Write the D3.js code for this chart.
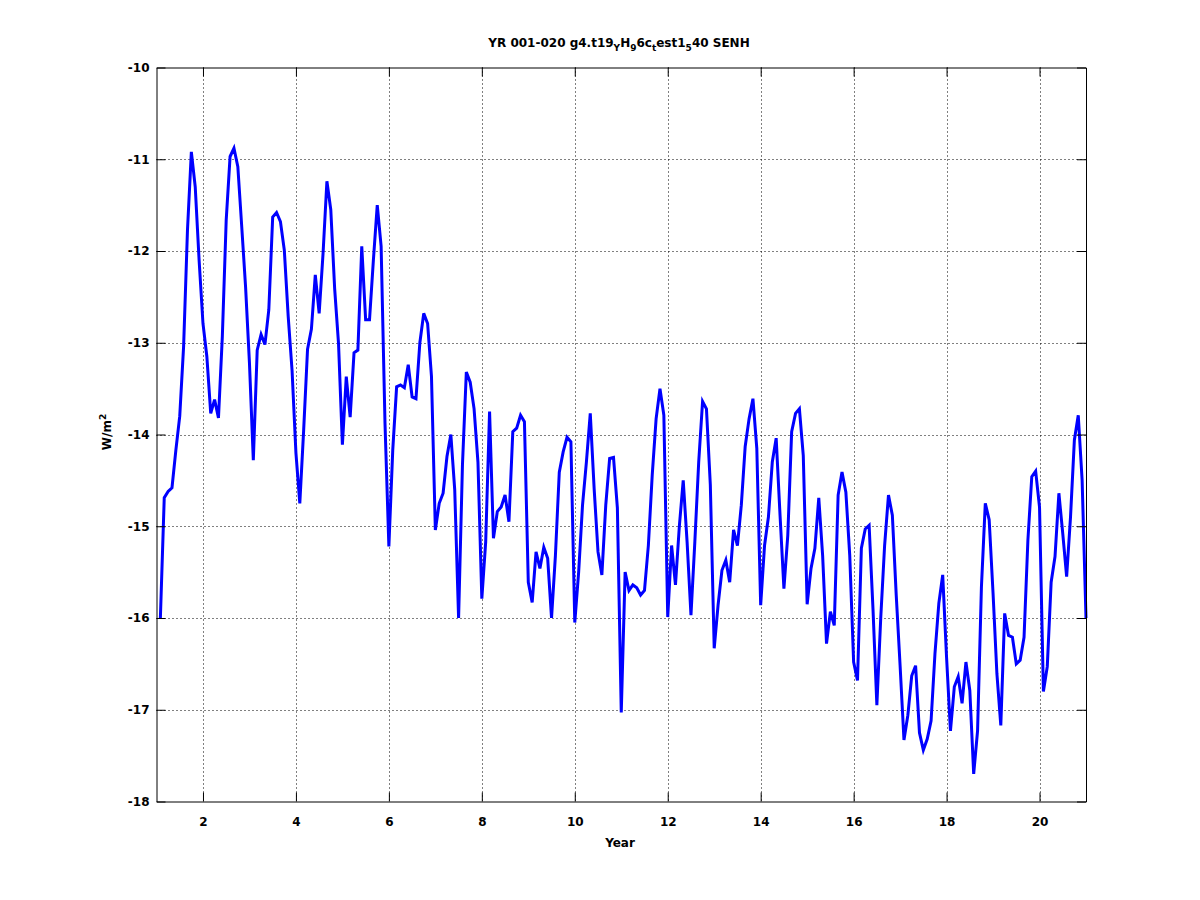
<!DOCTYPE html>
<html>
<head>
<meta charset="utf-8">
<script src="https://cdn.jsdelivr.net/npm/d3@7"></script>
<style>
  body { margin: 0; background: #fff; }
  text { font-family: "DejaVu Sans", "Liberation Sans", Arial, sans-serif; fill: #000; }
</style>
</head>
<body>
<div id="vis"></div>
<script>
// frame size
const FRAME_WIDTH = 1200;
const FRAME_HEIGHT = 900;

// plot box edges (pixels)
const MARGINS = {left: 156.5, right: 114, top: 67.5, bottom: 98.5};

// monthly SENH values, years 1..20
const SENH = [
  -16.0, -14.69, -14.62, -14.58, -14.17, -13.8, -13.04, -11.77, -10.92, -11.3, -12.1, -12.79,
  -13.15, -13.77, -13.62, -13.82, -12.93, -11.66, -10.97, -10.88, -11.08, -11.73, -12.39, -13.22,
  -14.28, -13.08, -12.91, -13.02, -12.64, -11.63, -11.58, -11.68, -11.99, -12.71, -13.3, -14.2,
  -14.75, -13.95, -13.07, -12.85, -12.26, -12.68, -12.03, -11.24, -11.55, -12.41, -13.01, -14.11,
  -13.37, -13.81, -13.11, -13.08, -11.95, -12.75, -12.75, -12.1, -11.5, -11.95, -13.88, -15.22,
  -14.17, -13.48, -13.46, -13.49, -13.24, -13.59, -13.61, -13.0, -12.68, -12.79, -13.37, -15.04,
  -14.75, -14.64, -14.24, -14.0, -14.6, -16.0, -14.33, -13.32, -13.43, -13.72, -14.3, -15.79,
  -15.17, -13.75, -15.13, -14.84, -14.79, -14.66, -14.95, -13.97, -13.93, -13.79, -13.86, -15.61,
  -15.83, -15.28, -15.46, -15.23, -15.35, -16.0, -15.32, -14.41, -14.19, -14.03, -14.08, -16.05,
  -15.5, -14.77, -14.3, -13.77, -14.59, -15.28, -15.53, -14.77, -14.26, -14.25, -14.8, -17.03,
  -15.5, -15.7, -15.64, -15.67, -15.75, -15.7, -15.21, -14.44, -13.83, -13.5, -13.79, -15.99,
  -15.21, -15.64, -15.0, -14.5, -15.17, -15.97, -15.17, -14.3, -13.64, -13.72, -14.55, -16.33,
  -15.86, -15.48, -15.37, -15.61, -15.04, -15.21, -14.77, -14.13, -13.83, -13.61, -14.15, -15.86,
  -15.21, -14.9, -14.3, -14.04, -14.88, -15.68, -15.1, -13.97, -13.77, -13.72, -14.23, -15.85,
  -15.46, -15.24, -14.69, -15.32, -16.28, -15.93, -16.08, -14.66, -14.41, -14.63, -15.32, -16.48,
  -16.68, -15.24, -15.03, -14.99, -15.9, -16.95, -16.0, -15.21, -14.66, -14.88, -15.75, -16.52,
  -17.33, -17.06, -16.63, -16.52, -17.25, -17.44, -17.32, -17.12, -16.39, -15.84, -15.53, -16.43,
  -17.23, -16.75, -16.64, -16.93, -16.48, -16.79, -17.7, -17.23, -15.66, -14.75, -14.93, -15.73,
  -16.61, -17.17, -15.95, -16.19, -16.21, -16.5, -16.46, -16.21, -15.15, -14.46, -14.4, -14.79,
  -16.8, -16.53, -15.61, -15.33, -14.64, -15.08, -15.55, -14.9, -14.06, -13.79, -14.5, -16.0
];

// month number 1..240 -> time in years
const MONTHS = d3.range(1, SENH.length + 1);

// axis ticks
const X_TICKS = [2, 4, 6, 8, 10, 12, 14, 16, 18, 20];
const Y_TICKS = [-10, -11, -12, -13, -14, -15, -16, -17, -18];

const X_DOMAIN = [1, 21];
const Y_DOMAIN = [-18, -10];

const TICK_LEN = 9;

const svg = d3.select("#vis")
  .append("svg")
    .attr("width", FRAME_WIDTH)
    .attr("height", FRAME_HEIGHT);

const X_SCALE = d3.scaleLinear()
  .domain(X_DOMAIN)
  .range([MARGINS.left, FRAME_WIDTH - MARGINS.right]);

const Y_SCALE = d3.scaleLinear()
  .domain(Y_DOMAIN)
  .range([FRAME_HEIGHT - MARGINS.bottom, MARGINS.top]);

const x0 = X_SCALE.range()[0], x1 = X_SCALE.range()[1];
const y0 = Y_SCALE.range()[1], y1 = Y_SCALE.range()[0];

// dotted grid
svg.append("g")
  .selectAll("line")
  .data(X_TICKS)
  .enter()
  .append("line")
    .attr("x1", (d) => Math.round(X_SCALE(d)) + 0.5)
    .attr("x2", (d) => Math.round(X_SCALE(d)) + 0.5)
    .attr("y1", y0)
    .attr("y2", y1)
    .attr("stroke", "#000")
    .attr("stroke-width", 1)
    .attr("stroke-dasharray", "1,3");

svg.append("g")
  .selectAll("line")
  .data(Y_TICKS.slice(1, -1))
  .enter()
  .append("line")
    .attr("x1", x0)
    .attr("x2", x1)
    .attr("y1", (d) => Math.round(Y_SCALE(d)) + 0.5)
    .attr("y2", (d) => Math.round(Y_SCALE(d)) + 0.5)
    .attr("stroke", "#000")
    .attr("stroke-width", 1)
    .attr("stroke-dasharray", "1,3");

// data line
const line = d3.line()
  .x((d) => X_SCALE(1 + d / 12))
  .y((d) => Y_SCALE(SENH[d - 1]));

svg.append("path")
  .datum(MONTHS)
  .attr("d", line)
  .attr("fill", "none")
  .attr("stroke", "#0000ff")
  .attr("stroke-width", 3)
  .attr("stroke-linejoin", "miter");

// axes, ticks inside the box
function styleAxis(g) {
  g.select(".domain").attr("stroke", "#000").attr("stroke-width", 1);
  g.selectAll(".tick line").attr("stroke", "#000");
  g.selectAll(".tick text")
    .attr("font-family", "DejaVu Sans")
    .attr("font-size", "12px")
    .attr("font-weight", "bold")
    .attr("fill", "#000");
}

svg.append("g")
  .attr("transform", "translate(0," + y1 + ")")
  .call(d3.axisBottom(X_SCALE).tickValues(X_TICKS).tickSize(-TICK_LEN).tickSizeOuter(0).tickPadding(16))
  .call(styleAxis);

svg.append("g")
  .attr("transform", "translate(0," + y0 + ")")
  .call(d3.axisTop(X_SCALE).tickValues(X_TICKS).tickSize(-TICK_LEN).tickSizeOuter(0).tickFormat(""))
  .call(styleAxis);

svg.append("g")
  .attr("transform", "translate(" + x0 + ",0)")
  .call(d3.axisLeft(Y_SCALE).tickValues(Y_TICKS).tickSize(-TICK_LEN).tickSizeOuter(0).tickPadding(7)
          .tickFormat((d) => String(d)))
  .call(styleAxis);

svg.append("g")
  .attr("transform", "translate(" + x1 + ",0)")
  .call(d3.axisRight(Y_SCALE).tickValues(Y_TICKS).tickSize(-TICK_LEN).tickSizeOuter(0).tickFormat(""))
  .call(styleAxis);

// title with subscripts
const title = svg.append("text")
  .attr("x", 619)
  .attr("y", 47)
  .attr("text-anchor", "middle")
  .attr("font-size", "12px")
  .attr("font-weight", "bold");

const TITLE_PARTS = [
  ["YR 001-020 g4.t19", false], ["Y", true], ["H", false], ["9", true],
  ["6c", false], ["t", true], ["est1", false], ["5", true], ["40 SENH", false]
];
let lowered = false;
TITLE_PARTS.forEach((p) => {
  const t = title.append("tspan").text(p[0]);
  if (p[1]) {
    t.attr("font-size", "9px").attr("dy", lowered ? 0 : 4);
    lowered = true;
  } else {
    t.attr("dy", lowered ? -4 : 0);
    lowered = false;
  }
});

// x label
svg.append("text")
  .attr("x", 620)
  .attr("y", 847)
  .attr("text-anchor", "middle")
  .attr("font-size", "12px")
  .attr("font-weight", "bold")
  .text("Year");

// y label
const ylab = svg.append("text")
  .attr("transform", "translate(110.5,432) rotate(-90)")
  .attr("text-anchor", "middle")
  .attr("font-size", "12px")
  .attr("font-weight", "bold");
ylab.append("tspan").text("W/m");
ylab.append("tspan").attr("font-size", "9px").attr("dy", -5).text("2");
</script>
</body>
</html>
